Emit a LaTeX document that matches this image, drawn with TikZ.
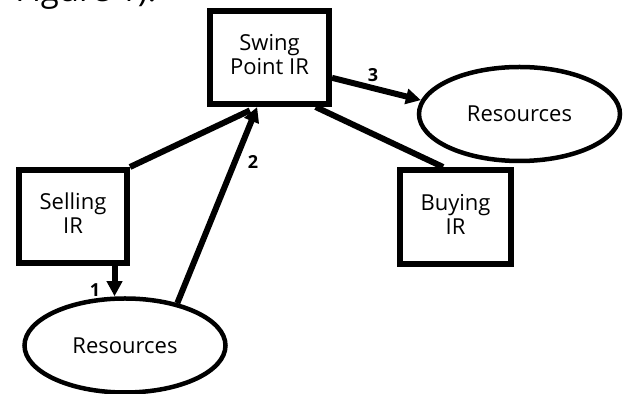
\documentclass[tikz,border=0pt]{standalone}
\usepackage{fontspec}
\setmainfont{Open Sans}
\usetikzlibrary{arrows.meta,shapes.geometric}
\begin{document}
\begin{tikzpicture}[x=0.5pt,y=-0.5pt,
  box/.style={draw,line width=3pt,minimum width=59.5pt,minimum height=46.5pt,inner sep=0pt,align=center,text depth=3pt,font=\fontsize{11}{12}\selectfont},
  res/.style={draw,ellipse,line width=2.25pt,minimum width=100.5pt,minimum height=47pt,inner sep=0pt,font=\fontsize{11}{12}\selectfont},
  conn/.style={line width=3pt},
  arr/.style={conn,-{Triangle[length=7.5pt,width=7.5pt]}},
  num/.style={font=\bfseries\fontsize{9}{10}\selectfont,inner sep=0pt}]
\useasboundingbox (0,0) rectangle (623,394);
\clip (0,0) rectangle (623,394);
\node[anchor=base west,inner sep=0pt,font=\fontsize{16.5}{18}\selectfont] (fig) at (15,2) {Figure 1).};
\node[box] (swing) at (269.5,57.5) {Swing\\Point IR};
\node[box,minimum width=54pt] (sell) at (73,216.5) {Selling\\IR};
\node[box,minimum width=55.5pt,minimum height=47pt] (buy) at (455.5,217) {Buying\\IR};
\node[res] (rres) at (519.5,114) {Resources};
\node[res] (bres) at (125,345.5) {Resources};
\draw[arr] (sell.-50) -- (sell.-50 |- bres.north);
\draw[conn,shorten >=4pt] (sell.north east) -- (swing.-104);
\draw[arr] (bres.39) -- (swing.-104);
\draw[arr] (swing.-18) -- (rres.172);
\draw[conn] (swing.-47.5) -- (buy.104);
\node[num] (n1) at (95,290) {1};
\node[num] (n2) at (253,162) {2};
\node[num] (n3) at (373,75) {3};
\end{tikzpicture}
\end{document}
